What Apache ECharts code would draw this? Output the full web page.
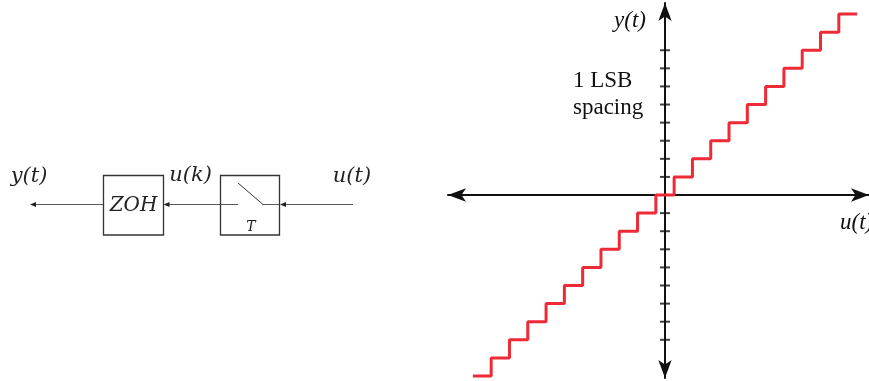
<!DOCTYPE html>
<html>
<head>
<meta charset="utf-8">
<script src="https://cdn.jsdelivr.net/npm/echarts@6/dist/echarts.min.js"></script>
<style>
  html, body { margin: 0; padding: 0; background: #ffffff; }
  #chart { width: 869px; height: 381px; }
</style>
</head>
<body>
<div id="chart"></div>
<script>
// Quantizer transfer curve: decision thresholds on u(t) (in LSB) and the output code held after each one
const inputEdges   = [-10.5, -9.5, -8.5, -7.5, -6.5, -5.5, -4.5, -3.5, -2.5, -1.5, -0.5,
                       0.5, 1.5, 2.5, 3.5, 4.5, 5.5, 6.5, 7.5, 8.5, 9.5, 10.5];
const outputLevels = [-10, -9, -8, -7, -6, -5, -4, -3, -2, -1, 0,
                       1, 2, 3, 4, 5, 6, 7, 8, 9, 10, 10];
// Tick marks on the y(t) axis, one per LSB
const yTickValues  = [-8, -7, -6, -5, -4, -3, -2, -1, 1, 2, 3, 4, 5, 6, 7, 8];
// Axis ranges (LSB units)
const uRange = [-11.86, 11.15];
const yRange = [-10.11, 10.61];

const stairData = inputEdges.map((u, i) => [u, outputLevels[i]]);
const tickData = yTickValues.map(v => [0, v]);

const chart = echarts.init(document.getElementById('chart'), null, { renderer: 'canvas' });

const serifItalic = (size) => 'italic ' + size + 'px "Liberation Serif", "Times New Roman", serif';
const serifUpright = (size) => size + 'px "Liberation Serif", "Times New Roman", serif';
const mathItalic = (size) => 'italic ' + size + 'px "DejaVu Serif", serif';
const wire = '#5a5a5a';
const frame = '#333333';

// Small filled arrowhead pointing left, tip at (x, y)
function headLeft(x, y) {
  return {
    type: 'polygon',
    shape: { points: [[x, y], [x + 6, y - 2.4], [x + 6, y + 2.4]] },
    style: { fill: '#222' }
  };
}
function wireLine(x1, x2, y) {
  return { type: 'line', shape: { x1: x1, y1: y, x2: x2, y2: y }, style: { stroke: wire, lineWidth: 1 } };
}

const yLine = 204.5;

const blockDiagram = [
  // y(t) <- ZOH
  wireLine(103, 34, yLine), headLeft(30, yLine),
  { type: 'rect', shape: { x: 103.5, y: 175.5, width: 60, height: 59.5 },
    style: { fill: 'none', stroke: frame, lineWidth: 1.3 } },
  { type: 'text', style: { text: 'ZOH', x: 133.5, y: 206, font: mathItalic(20), fill: '#222',
    align: 'center', verticalAlign: 'middle' } },
  // ZOH <- sampler
  wireLine(220, 167, yLine), headLeft(163.5, yLine),
  { type: 'rect', shape: { x: 220.5, y: 175.5, width: 59, height: 59.5 },
    style: { fill: 'none', stroke: frame, lineWidth: 1.3 } },
  // sampler switch
  wireLine(221, 238, yLine),
  { type: 'line', shape: { x1: 238, y1: 183, x2: 263, y2: yLine }, style: { stroke: frame, lineWidth: 1 } },
  wireLine(263, 279, yLine),
  { type: 'text', style: { text: 'T', x: 251, y: 227, font: mathItalic(14), fill: '#222',
    align: 'center', verticalAlign: 'middle' } },
  // sampler <- u(t)
  wireLine(353, 284, yLine), headLeft(280, yLine),
  // signal labels
  { type: 'text', style: { text: 'y(t)', x: 29, y: 177, font: mathItalic(21), fill: '#222',
    align: 'center', verticalAlign: 'middle' } },
  { type: 'text', style: { text: 'u(k)', x: 190.5, y: 176, font: mathItalic(21), fill: '#222',
    align: 'center', verticalAlign: 'middle' } },
  { type: 'text', style: { text: 'u(t)', x: 352, y: 177, font: mathItalic(21), fill: '#222',
    align: 'center', verticalAlign: 'middle' } }
];

const plotText = [
  { type: 'text', style: { text: 'y(t)', x: 630, y: 21, font: serifItalic(23), fill: '#111',
    align: 'center', verticalAlign: 'middle' } },
  { type: 'text', style: { text: '1 LSB', x: 573, y: 81, font: serifUpright(23),
    fill: '#111', align: 'left', verticalAlign: 'middle' } },
  { type: 'text', style: { text: 'spacing', x: 573, y: 108, font: serifUpright(23),
    fill: '#111', align: 'left', verticalAlign: 'middle' } },
  { type: 'text', style: { text: 'u(t)', x: 840, y: 223, font: serifItalic(23), fill: '#111',
    align: 'left', verticalAlign: 'middle' } }
];

const axisArrow = {
  show: true,
  onZero: true,
  symbol: ['arrow', 'arrow'],
  symbolSize: [10, 18],
  lineStyle: { color: '#111', width: 2 }
};

chart.setOption({
  animation: false,
  backgroundColor: '#ffffff',
  grid: { left: 448, right: 0, top: 3, bottom: 3, containLabel: false },
  xAxis: {
    type: 'value', min: uRange[0], max: uRange[1],
    axisLine: axisArrow,
    axisTick: { show: false }, axisLabel: { show: false }, splitLine: { show: false }
  },
  yAxis: {
    type: 'value', min: yRange[0], max: yRange[1],
    axisLine: axisArrow,
    axisTick: { show: false }, axisLabel: { show: false }, splitLine: { show: false }
  },
  series: [
    {
      name: 'ticks', type: 'scatter', data: tickData,
      symbol: 'rect', symbolSize: [10, 2],
      itemStyle: { color: '#111' }, z: 1, silent: true
    },
    {
      name: 'quantizer', type: 'line', data: stairData, step: 'end',
      showSymbol: false, clip: false,
      lineStyle: { color: '#ee2a36', width: 3 }, z: 3, silent: true
    }
  ],
  graphic: blockDiagram.concat(plotText)
});
</script>
</body>
</html>
